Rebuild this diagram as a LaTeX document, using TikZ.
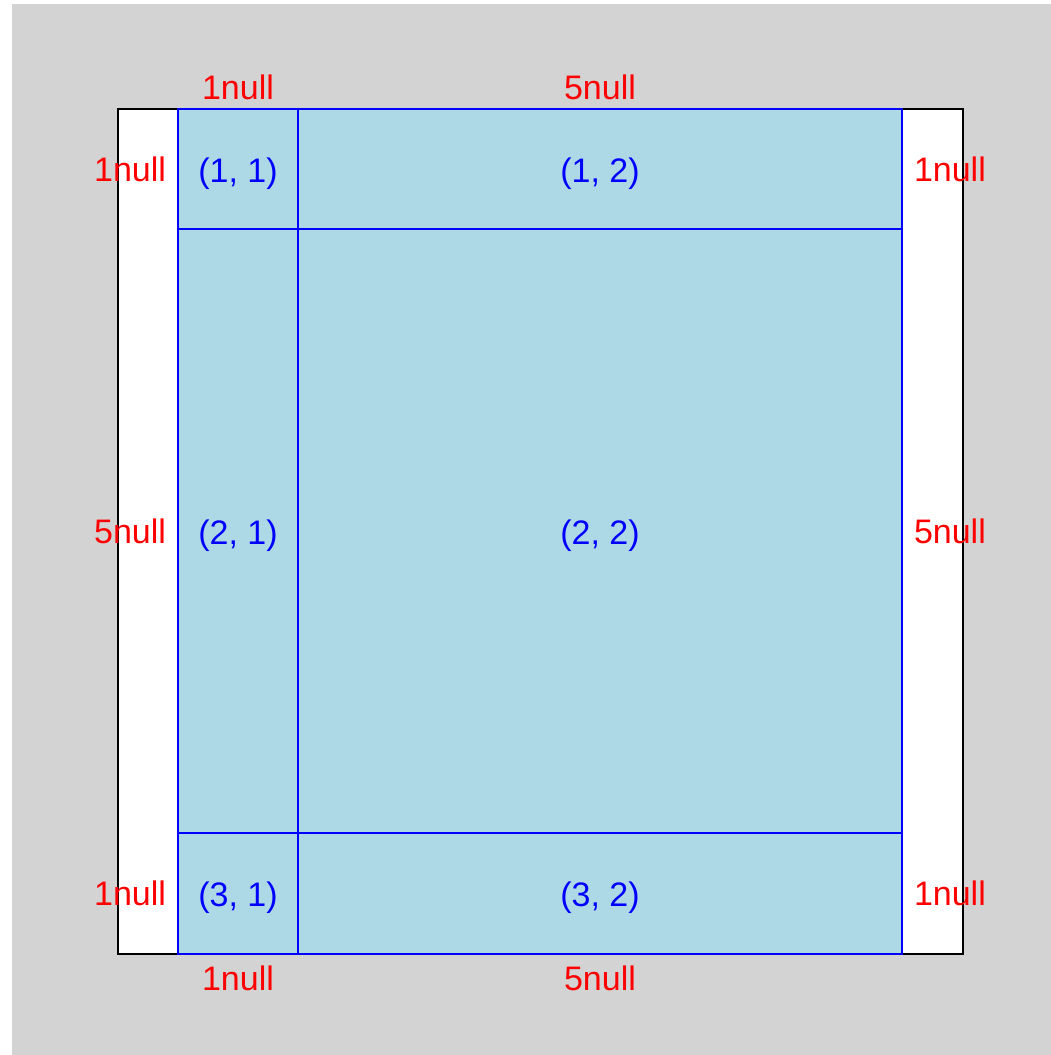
\documentclass[tikz,border=0pt]{standalone}
\usepackage{fontspec}
\setmainfont{Liberation Sans}
\usetikzlibrary{positioning}
\definecolor{panelgray}{RGB}{211,211,211}
\definecolor{cellblue}{RGB}{173,216,230}

\begin{document}
\begin{tikzpicture}[x=1pt,y=-1pt,every node/.style={font=\fontsize{34}{40}\selectfont},
    cell/.style={draw=blue,fill=cellblue,line width=1.6pt,text=blue,inner sep=0pt,
                 text height=26pt,text depth=0pt,minimum width=#1},
    size/.style={text=red,inner sep=0pt}]
  \useasboundingbox (0,0) rectangle (1051,1055);
  \fill[panelgray] (12,4) rectangle (1051,1055);
  \draw[fill=white,line width=1.6pt] (118,109) rectangle (963,954);
  % layout cells
  \node[cell=120pt,minimum height=120pt] (c11) at (238,169) {(1, 1)};
  \node[cell=604pt,minimum height=120pt] (c12) at (600,169) {(1, 2)};
  \node[cell=120pt,minimum height=604pt] (c21) at (238,531) {(2, 1)};
  \node[cell=604pt,minimum height=604pt] (c22) at (600,531) {(2, 2)};
  \node[cell=120pt,minimum height=121pt] (c31) at (238,893.5) {(3, 1)};
  \node[cell=604pt,minimum height=121pt] (c32) at (600,893.5) {(3, 2)};
  % widths and heights
  \node[size,above=8pt of c11] (w1t) {1null};
  \node[size,above=8pt of c12] (w2t) {5null};
  \node[size,below=11pt of c31] (w1b) {1null};
  \node[size,below=11pt of c32] (w2b) {5null};
  \node[size,left=11pt of c11] (h1l) {1null};
  \node[size,left=11pt of c21] (h2l) {5null};
  \node[size,left=11pt of c31] (h3l) {1null};
  \node[size,right=11pt of c12] (h1r) {1null};
  \node[size,right=11pt of c22] (h2r) {5null};
  \node[size,right=11pt of c32] (h3r) {1null};
\end{tikzpicture}
\end{document}
